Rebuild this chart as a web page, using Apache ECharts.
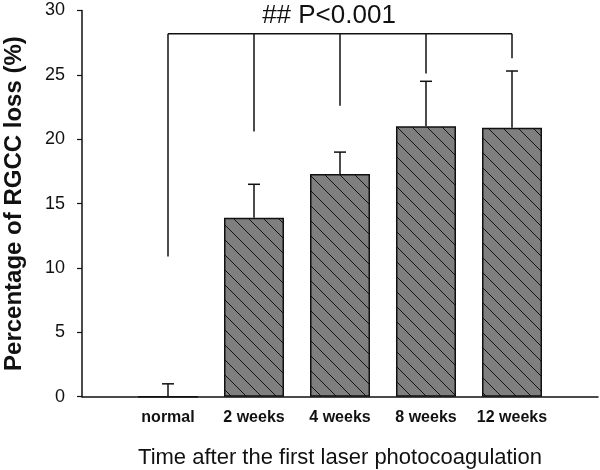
<!DOCTYPE html>
<html>
<head>
<meta charset="utf-8">
<script src="https://cdn.jsdelivr.net/npm/echarts@6/dist/echarts.min.js"></script>
<style>
html,body{margin:0;padding:0;background:#fff;}
#chart{width:600px;height:470px;}
</style>
</head>
<body>
<div id="chart"></div>
<script>
// ---- data ----
var categories = ['normal', '2 weeks', '4 weeks', '8 weeks', '12 weeks'];
var means = [0, 13.9, 17.3, 21.0, 20.9];
var errors = [1.0, 2.6, 1.7, 3.5, 4.4];
var bracketTop = 28.2;
var bracketEnds = [10.9, 20.6, 22.6, 25.1, 26.3];
var bracketLabel = '## P<0.001';
var yTicks = [0, 5, 10, 15, 20, 25, 30];
var xTitle = 'Time after the first laser photocoagulation';
var yTitle = 'Percentage of RGCC loss (%)';

// ---- style helpers ----
var FONT = 'Liberation Sans, Arial, sans-serif';
function hatchPattern() {
  var s = 15;
  var c = document.createElement('canvas');
  c.width = s; c.height = s;
  var g = c.getContext('2d');
  g.fillStyle = '#7f7f7f';
  g.fillRect(0, 0, s, s);
  g.strokeStyle = '#111';
  g.lineWidth = 1;
  for (var k = -1; k <= 1; k++) {
    g.beginPath();
    g.moveTo(k * s - 1, -1);
    g.lineTo(k * s + s + 1, s + 1);
    g.stroke();
  }
  return c;
}

// axis categories: padded so the slots fall on ticks
var axisCats = [''].concat(categories).concat(['']);
var barData = [null].concat(means).concat([null]);
var errData = categories.map(function (c, i) { return [i + 1, means[i], errors[i]]; });
var brData = categories.map(function (c, i) { return [i + 1, bracketEnds[i], bracketTop]; });

var chart = echarts.init(document.getElementById('chart'), null, {renderer: 'canvas'});
chart.setOption({
  animation: false,
  backgroundColor: '#fff',
  grid: {left: 82, right: 2, top: 10.5, bottom: 73.3, containLabel: false, outerBoundsMode: 'none'},
  xAxis: {
    type: 'category',
    data: axisCats,
    boundaryGap: false,
    axisLine: {lineStyle: {color: '#111', width: 1.5}},
    axisTick: {show: false},
    axisLabel: {interval: 0, color: '#111', fontFamily: FONT, fontSize: 16, fontWeight: 'bold', margin: 13},
    name: xTitle,
    nameLocation: 'middle',
    nameGap: 50,
    nameTextStyle: {color: '#111', fontFamily: FONT, fontSize: 22}
  },
  yAxis: {
    type: 'value',
    min: yTicks[0],
    max: yTicks[yTicks.length - 1],
    interval: yTicks[1] - yTicks[0],
    axisLine: {show: true, lineStyle: {color: '#111', width: 1.5}},
    axisTick: {show: true, length: 5, lineStyle: {color: '#111', width: 1.2}},
    splitLine: {show: false},
    axisLabel: {color: '#111', fontFamily: FONT, fontSize: 18, margin: 17},
    name: yTitle,
    nameLocation: 'middle',
    nameGap: 56,
    nameTextStyle: {color: '#111', fontFamily: FONT, fontSize: 24, fontWeight: 'bold'}
  },
  graphic: [{
    type: 'text',
    x: 329, y: 16,
    style: {text: bracketLabel, font: '26px ' + FONT, fill: '#111', align: 'center', verticalAlign: 'middle'}
  }],
  series: [
    {
      type: 'bar',
      data: barData,
      barWidth: 60,
      itemStyle: {color: {image: hatchPattern(), repeat: 'repeat'}, borderColor: '#111', borderWidth: 1.5},
      z: 2
    },
    {
      type: 'custom',
      data: errData,
      z: 3,
      renderItem: function (params, api) {
        var p0 = api.coord([api.value(0), api.value(1)]);
        var p1 = api.coord([api.value(0), api.value(1) + api.value(2)]);
        var st = {stroke: '#111', lineWidth: 1.5};
        return {type: 'group', children: [
          {type: 'line', shape: {x1: p0[0], y1: p0[1], x2: p1[0], y2: p1[1]}, style: st},
          {type: 'line', shape: {x1: p1[0] - 6, y1: p1[1], x2: p1[0] + 6, y2: p1[1]}, style: st}
        ]};
      }
    },
    {
      type: 'custom',
      data: brData,
      z: 3,
      renderItem: function (params, api) {
        var idx = api.value(0);
        var pb = api.coord([idx, api.value(1)]);
        var pt = api.coord([idx, api.value(2)]);
        var st = {stroke: '#111', lineWidth: 1.5};
        var ch = [{type: 'line', shape: {x1: pt[0], y1: pt[1], x2: pb[0], y2: pb[1]}, style: st}];
        if (params.dataIndex < brData.length - 1) {
          var pn = api.coord([idx + 1, api.value(2)]);
          ch.push({type: 'line', shape: {x1: pt[0], y1: pt[1], x2: pn[0], y2: pn[1]}, style: st});
        }
        return {type: 'group', children: ch};
      }
    }
  ]
});
</script>
</body>
</html>
